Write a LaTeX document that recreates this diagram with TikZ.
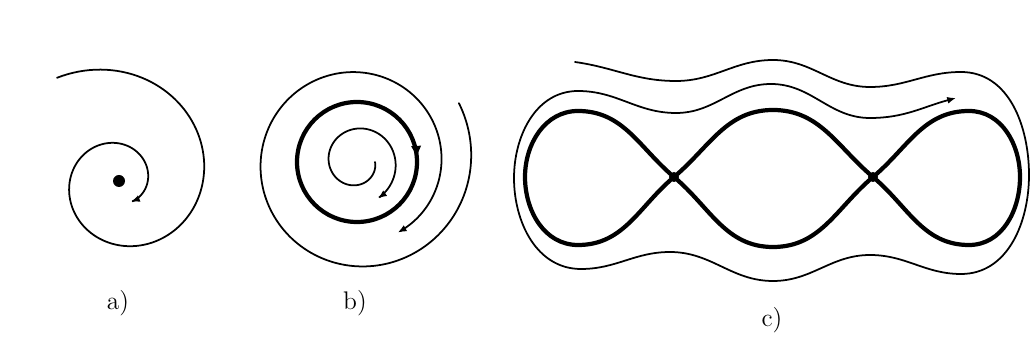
\documentclass[tikz,border=0pt]{standalone}
\usepackage{tikz}
\usetikzlibrary{arrows.meta,decorations.markings}

\begin{document}
\begin{tikzpicture}[
    x=0.02cm, y=0.02cm,
    >={Latex[length=5pt,width=4pt]},
    orbit/.style={line width=1pt, black, line cap=round},
    limitcycle/.style={line width=2.4pt, black},
    caption/.style={font=\fontsize{14.5}{17}\selectfont}
]
    \useasboundingbox (0,0) rectangle (1031,361);

    \coordinate (focus) at (119,180);
    \coordinate (ring) at (357,199);
    \coordinate (s1) at (674,184);
    \coordinate (s2) at (873,184);

    % a) Stable focus
    \fill (focus) circle[radius=6];
    \draw[orbit, ->, shift={(focus)}] plot[domain=121:-420, samples=200]
        ({84*exp(0.002976*\x)*cos(\x)}, {84*exp(0.002976*\x)*sin(\x)});

    % b) Limit cycle
    \draw[limitcycle, postaction={decorate}, decoration={markings, mark=at position 0.24 with {\arrow{Latex[length=7pt,width=6pt]}}}]
        (ring) ++(0,60) arc[start angle=90, end angle=-270, radius=60];
    \draw[orbit, ->, shift={(ring)}] plot[domain=0:-420, samples=200]
        ({(18-0.057*\x)*cos(\x)}, {(18-0.057*\x)*sin(\x)});
    \draw[orbit, ->, shift={(ring)}] plot[domain=30:-420, samples=200]
        ({(60+54*exp(0.0022*\x))*cos(\x)}, {(60+54*exp(0.0022*\x))*sin(\x)});

    % c) Separatrix loops through two saddles
    \draw[limitcycle]
        (s1) to[out=40,in=180] (773,251) to[out=0,in=140] (s2)
        to[out=-40,in=180] (969,116) to[out=0,in=-90] (1020,184)
        to[out=90,in=0] (969,250) to[out=180,in=40] (s2)
        to[out=-140,in=0] (773,114) to[out=180,in=-40] (s1)
        to[out=140,in=0] (578,250) to[out=180,in=90] (525,184)
        to[out=-90,in=180] (578,116) to[out=0,in=-140] (s1);
    \fill (s1) circle[radius=5];
    \fill (s2) circle[radius=5];
    \draw[orbit, ->] (575,299) to[out=-8,in=180] (676,280) to[out=0,in=180] (773,301)
        to[out=0,in=180] (870,274) to[out=0,in=180] (961,289) to[out=0,in=90] (1029,186)
        to[out=-90,in=0] (961,87) to[out=180,in=0] (870,106) to[out=180,in=0] (773,80)
        to[out=180,in=0] (670,109) to[out=180,in=0] (581,92) to[out=180,in=-90] (514,183)
        to[out=90,in=180] (578,270) to[out=0,in=180] (676,248) to[out=0,in=180] (771,277)
        to[out=0,in=180] (870,243) to[out=0,in=-165] (956,263);

    % Captions
    \node[caption] (capa) at (118,58) {a)};
    \node[caption] (capb) at (355,58) {b)};
    \node[caption] (capc) at (772,41) {c)};
\end{tikzpicture}
\end{document}
